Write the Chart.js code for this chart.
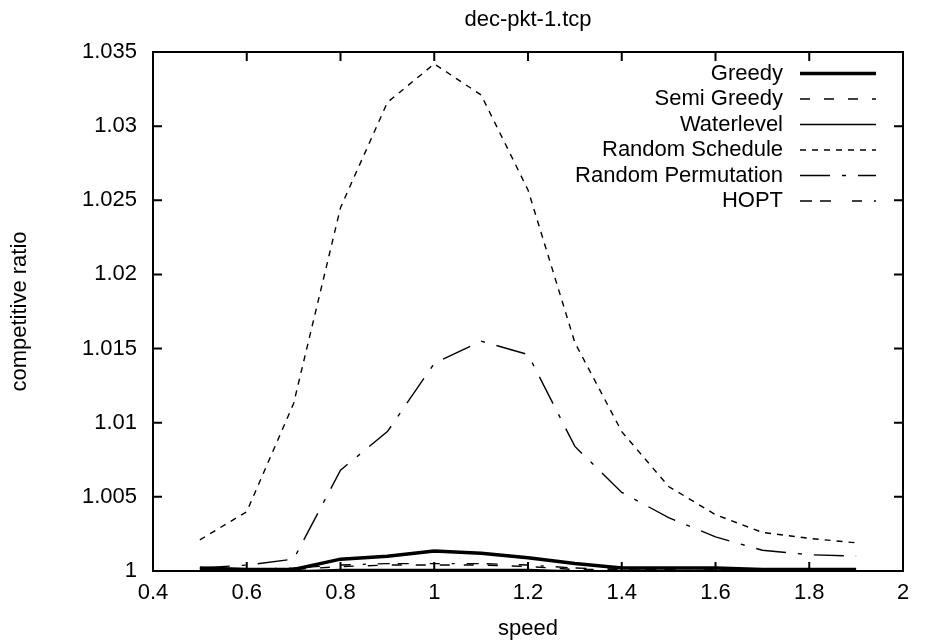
<!DOCTYPE html>
<html>
<head>
<meta charset="utf-8">
<script src="https://cdn.jsdelivr.net/npm/chart.js@4.4.1/dist/chart.umd.min.js"></script>
<style>html,body{margin:0;padding:0;background:#fff}</style>
</head>
<body>
<canvas id="chart" width="928" height="642"></canvas>
<script>
// values
const speeds = [0.5, 0.6, 0.7, 0.8, 0.9, 1.0, 1.1, 1.2, 1.3, 1.4, 1.5, 1.6, 1.7, 1.8, 1.9];
const greedy = [1.0002, 1.0001, 1.0001, 1.0008, 1.0010, 1.00135, 1.0012, 1.0009, 1.0005, 1.0002, 1.0002, 1.0002, 1.0001, 1.0001, 1.0001];
const semiGreedy = [1.0001, 1.0001, 1.0001, 1.0003, 1.0004, 1.0004, 1.0004, 1.0003, 1.0001, 1.0001, 1.0000, 1.0001, 1.0000, 1.0000, 1.0000];
const waterlevel = [1.0000, 1.0000, 1.0000, 1.0001, 1.0001, 1.0001, 1.0001, 1.0001, 1.0000, 1.0000, 1.0000, 1.0000, 1.0000, 1.0000, 1.0000];
const randomSchedule = [1.0021, 1.0040, 1.0113, 1.0245, 1.0316, 1.0342, 1.0321, 1.0257, 1.0154, 1.0094, 1.0057, 1.0038, 1.0026, 1.0022, 1.0019];
const randomPermutation = [1.0002, 1.0004, 1.0008, 1.0068, 1.0094, 1.0140, 1.0155, 1.0146, 1.0084, 1.0053, 1.0036, 1.0023, 1.0014, 1.0011, 1.0010];
const hopt = [1.0000, 1.0001, 1.0002, 1.0004, 1.0005, 1.0005, 1.0005, 1.0004, 1.0002, 1.0001, 1.0001, 1.0000, 1.0000, 1.0000, 1.0000];

const xTicks = [0.4, 0.6, 0.8, 1, 1.2, 1.4, 1.6, 1.8, 2];
const yTicks = [1, 1.005, 1.01, 1.015, 1.02, 1.025, 1.03, 1.035];

const FONT = "'Liberation Sans', Arial, sans-serif";
Chart.defaults.font.family = FONT;
Chart.defaults.font.size = 22;
Chart.defaults.color = '#000';

function series(label, values, width, dash) {
    return {
        label: label,
        data: speeds.map((s, i) => ({ x: s, y: values[i] })),
        borderColor: '#000',
        borderWidth: width,
        borderDash: dash,
        pointRadius: 0,
        tension: 0,
        fill: false,
        clip: false
    };
}

// gnuplot look: border, inward mirrored ticks, key at top right
const gnuplotFrame = {
    id: 'gnuplotFrame',
    afterDatasetsDraw(chart) {
        const { ctx, chartArea: a, scales: { x, y } } = chart;
        ctx.save();
        ctx.strokeStyle = '#000';
        ctx.lineWidth = 2;
        ctx.setLineDash([]);
        ctx.beginPath();
        xTicks.forEach(v => {
            const px = x.getPixelForValue(v);
            ctx.moveTo(px, a.bottom); ctx.lineTo(px, a.bottom - 9);
            ctx.moveTo(px, a.top); ctx.lineTo(px, a.top + 9);
        });
        yTicks.forEach(v => {
            const py = y.getPixelForValue(v);
            ctx.moveTo(a.left, py); ctx.lineTo(a.left + 9, py);
            ctx.moveTo(a.right, py); ctx.lineTo(a.right - 9, py);
        });
        ctx.stroke();
        ctx.strokeRect(a.left, a.top, a.right - a.left, a.bottom - a.top);

        ctx.font = '22px ' + FONT;
        ctx.fillStyle = '#000';
        ctx.textAlign = 'right';
        ctx.textBaseline = 'middle';
        chart.data.datasets.forEach((ds, i) => {
            const ly = a.top + 21.5 + i * 25.5;
            ctx.fillText(ds.label, a.right - 120, ly);
            ctx.lineWidth = ds.borderWidth;
            ctx.setLineDash(ds.borderDash || []);
            ctx.beginPath();
            ctx.moveTo(a.right - 103, ly);
            ctx.lineTo(a.right - 27, ly);
            ctx.stroke();
        });
        ctx.restore();
    }
};

new Chart(document.getElementById('chart'), {
    type: 'line',
    data: {
        datasets: [
            series('Greedy', greedy, 3.5, []),
            series('Semi Greedy', semiGreedy, 1.4, [10, 14]),
            series('Waterlevel', waterlevel, 1.4, []),
            series('Random Schedule', randomSchedule, 1.4, [6, 6]),
            series('Random Permutation', randomPermutation, 1.4, [30, 12, 4, 12]),
            series('HOPT', hopt, 1.4, [12, 8, 11, 21, 10, 12, 3, 12])
        ]
    },
    options: {
        responsive: false,
        animation: false,
        devicePixelRatio: 1,
        layout: { padding: { left: 0, right: 25, top: 0, bottom: 0 } },
        plugins: {
            legend: { display: false },
            tooltip: { enabled: false },
            title: {
                display: true,
                text: 'dec-pkt-1.tcp',
                fullSize: false,
                color: '#000',
                font: { size: 22, weight: 'normal' },
                padding: { top: 7, bottom: 18.6 }
            }
        },
        scales: {
            x: {
                type: 'linear',
                min: 0.4,
                max: 2,
                afterBuildTicks: s => { s.ticks = xTicks.map(v => ({ value: v })); },
                afterFit: s => { s.height = 71; },
                ticks: { padding: 9, callback: v => String(v), maxRotation: 0, autoSkip: false },
                grid: { display: false, drawTicks: false },
                border: { display: false },
                title: { display: true, text: 'speed', color: '#000', font: { size: 22 }, padding: { top: 0, bottom: 0 } }
            },
            y: {
                type: 'linear',
                min: 1,
                max: 1.035,
                afterBuildTicks: s => { s.ticks = yTicks.map(v => ({ value: v })); },
                afterFit: s => { s.width = 153; },
                ticks: { padding: 16, callback: v => String(v), autoSkip: false },
                grid: { display: false, drawTicks: false },
                border: { display: false },
                title: { display: true, text: 'competitive ratio', color: '#000', font: { size: 22 }, padding: { top: 7, bottom: 0 } }
            }
        }
    },
    plugins: [gnuplotFrame]
});
</script>
</body>
</html>
